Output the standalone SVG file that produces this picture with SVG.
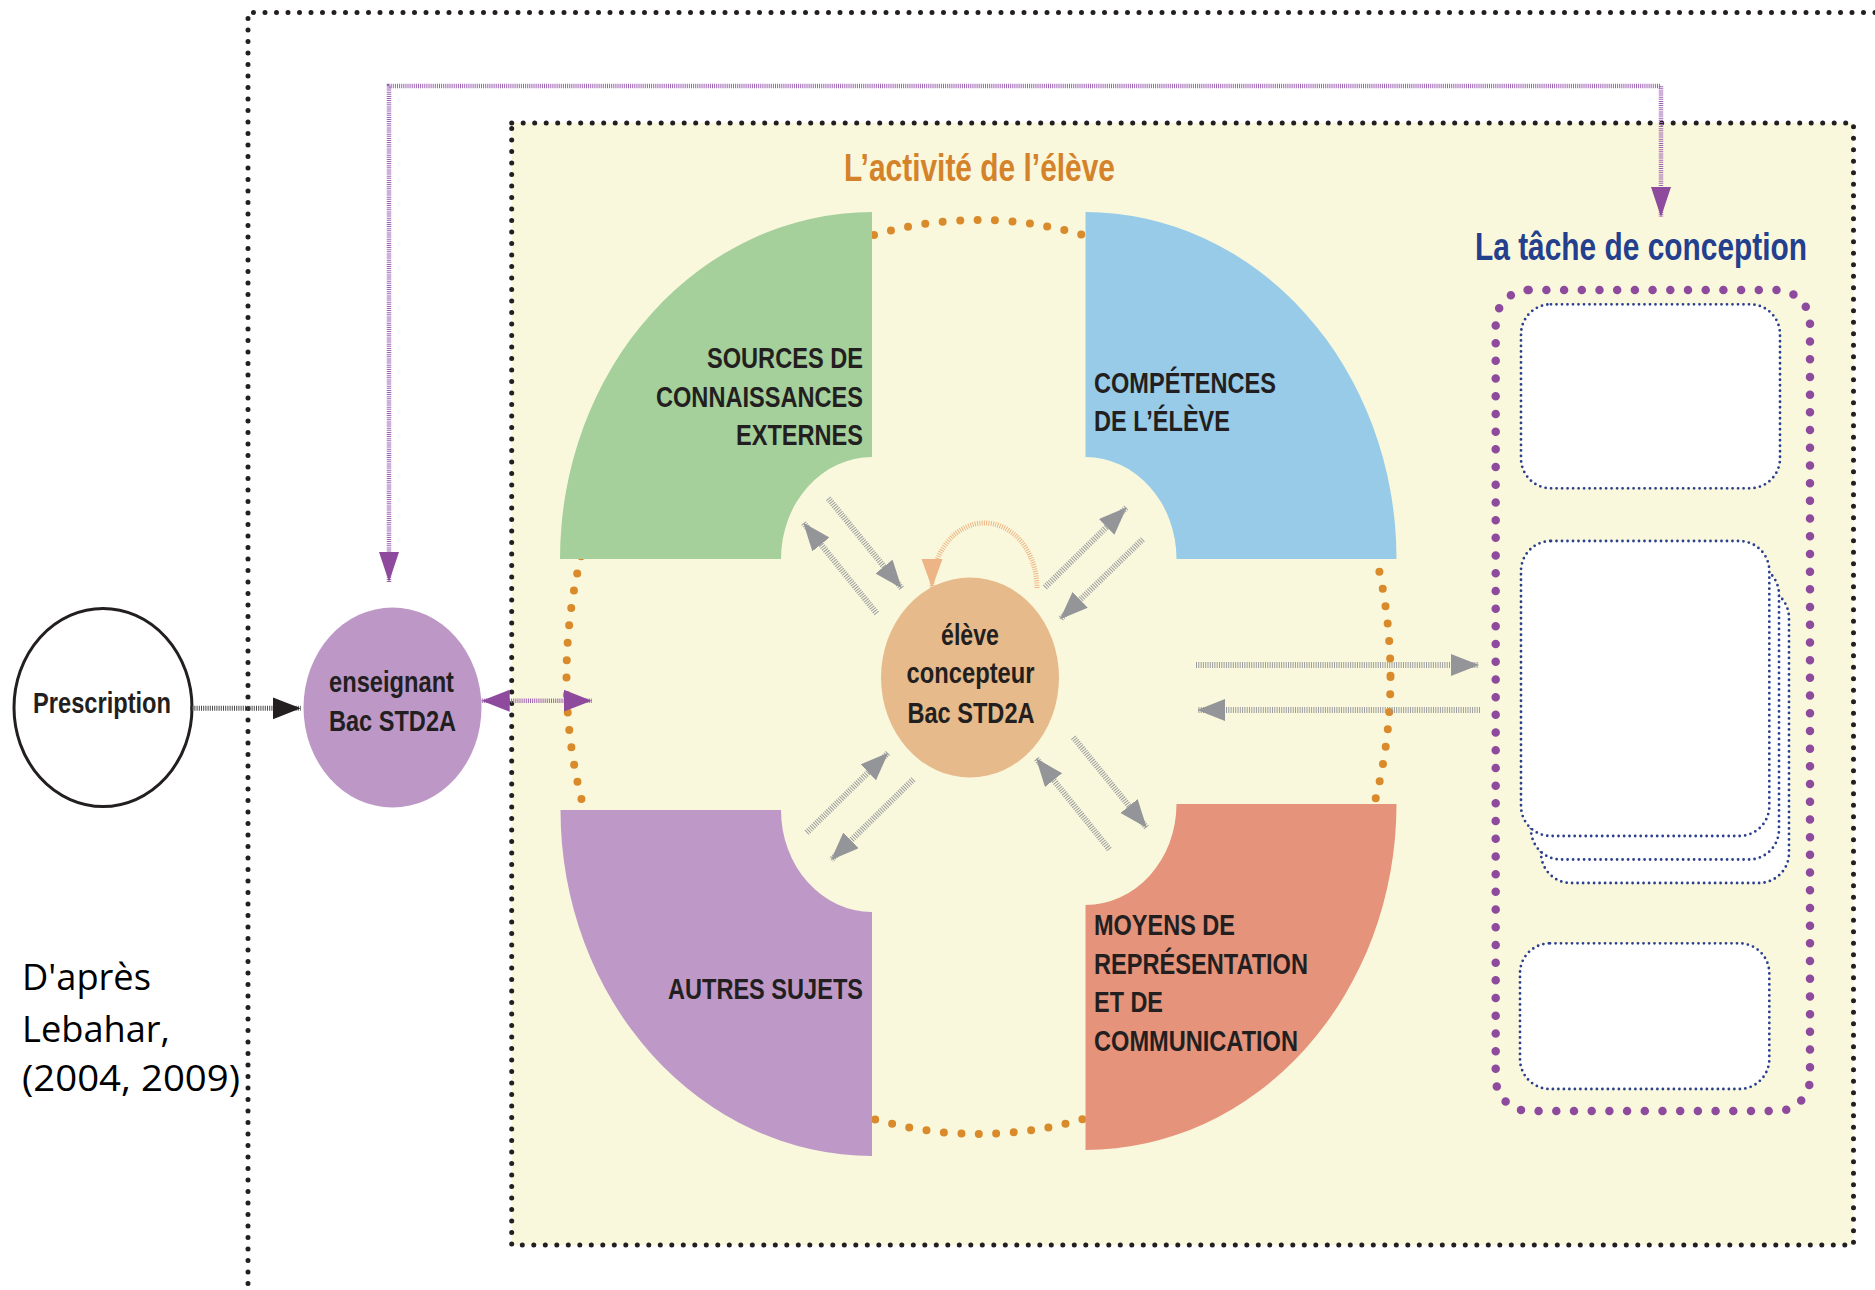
<svg xmlns="http://www.w3.org/2000/svg" width="1875" height="1290" viewBox="0 0 1875 1290">
<style>
.dotblk{fill:none;stroke:#231F20;stroke-width:5;stroke-linecap:round;stroke-dasharray:0 11.5}
.dotorg{fill:none;stroke:#D98A2B;stroke-width:8;stroke-linecap:round;stroke-dasharray:0 17.5}
.dotpur{fill:none;stroke:#8E4B9E;stroke-width:8.5;stroke-linecap:round;stroke-dasharray:0 17.7}
.dotblu{fill:#FFFFFF;stroke:#2B3F8F;stroke-width:2.8;stroke-linecap:round;stroke-dasharray:0 5.5}
.hg{fill:none;stroke:#9A9C9F;stroke-width:6;stroke-dasharray:1 1.3}
.hk{fill:none;stroke:#4A4A4A;stroke-width:5;stroke-dasharray:1 1.2}
.hp{fill:none;stroke:#9D63B3;stroke-width:4.5;stroke-dasharray:1 1.1}
.ho{fill:none;stroke:#EDB585;stroke-width:5;stroke-dasharray:1 1.3}
.lbl{font-family:"Liberation Sans",Arial,sans-serif;font-weight:bold;font-size:29px;fill:#231F20}
.note{font-family:"Open Sans","Noto Sans",sans-serif;font-size:36px;fill:#000000}
.title{font-family:"Liberation Sans",Arial,sans-serif;font-weight:bold;font-size:39px}
</style>
<defs>
<marker id="ag" markerUnits="userSpaceOnUse" markerWidth="30" markerHeight="24" refX="28" refY="11" orient="auto-start-reverse"><path d="M0,0 L28,11 L0,22 Z" fill="#939598"/></marker>
<marker id="ak" markerUnits="userSpaceOnUse" markerWidth="30" markerHeight="24" refX="28" refY="11" orient="auto"><path d="M0,0 L28,11 L0,22 Z" fill="#231F20"/></marker>
<marker id="ap" markerUnits="userSpaceOnUse" markerWidth="30" markerHeight="24" refX="28" refY="11" orient="auto-start-reverse"><path d="M0,0 L28,11 L0,22 Z" fill="#8E4B9E"/></marker>
<marker id="ap2" markerUnits="userSpaceOnUse" markerWidth="32" markerHeight="22" refX="30" refY="10" orient="auto-start-reverse"><path d="M0,0 L30,10 L0,20 Z" fill="#8E4B9E"/></marker>
<marker id="ao" markerUnits="userSpaceOnUse" markerWidth="31" markerHeight="22" refX="29" refY="10.5" orient="auto"><path d="M0,0 L29,10.5 L0,21 Z" fill="#EDB585"/></marker>
</defs>
<rect width="1875" height="1290" fill="#FFFFFF"/>

<g id="outer-frame">
<path class="dotblk" d="M1875,12.5 H248 V1290"/>
</g>

<g id="activity-frame">
<rect x="511.7" y="123" width="1341.8" height="1122" fill="#FAF8DC"/>
<rect class="dotblk" x="511.7" y="123" width="1341.8" height="1122"/>
<text class="title" x="844" y="181" fill="#D4832A" textLength="271" lengthAdjust="spacingAndGlyphs">L’activité de l’élève</text>
</g>

<g id="orange-ring">
<ellipse class="dotorg" cx="978.5" cy="677" rx="412" ry="457"/>
</g>

<g id="sources">
<path d="M872,212 V457 A91,102 0 0 0 781,559 H560 A312,347 0 0 1 872,212 Z" fill="#A5CF9B"/>
<text class="lbl" x="863" y="368" text-anchor="end" textLength="156" lengthAdjust="spacingAndGlyphs">SOURCES DE</text>
<text class="lbl" x="863" y="407" text-anchor="end" textLength="207" lengthAdjust="spacingAndGlyphs">CONNAISSANCES</text>
<text class="lbl" x="863" y="445" text-anchor="end" textLength="127" lengthAdjust="spacingAndGlyphs">EXTERNES</text>
</g>

<g id="competences">
<path d="M1085.5,212 A311,347 0 0 1 1396.5,559 H1176.5 A91,102 0 0 0 1085.5,457 Z" fill="#97CBE8"/>
<text class="lbl" x="1094" y="393" textLength="182" lengthAdjust="spacingAndGlyphs">COMPÉTENCES</text>
<text class="lbl" x="1094" y="431" textLength="136" lengthAdjust="spacingAndGlyphs">DE L’ÉLÈVE</text>
</g>

<g id="autres-sujets">
<path d="M560.5,810 H781 A91,102 0 0 0 872,912 V1156 A312,346 0 0 1 560.5,810 Z" fill="#BE99C8"/>
<text class="lbl" x="863" y="999" text-anchor="end" textLength="195" lengthAdjust="spacingAndGlyphs">AUTRES SUJETS</text>
</g>

<g id="moyens">
<path d="M1085.5,905 A91,101 0 0 0 1176.5,804 H1396.5 A311,346 0 0 1 1085.5,1150 Z" fill="#E5937B"/>
<text class="lbl" x="1094" y="935" textLength="141" lengthAdjust="spacingAndGlyphs">MOYENS DE</text>
<text class="lbl" x="1094" y="974" textLength="214" lengthAdjust="spacingAndGlyphs">REPRÉSENTATION</text>
<text class="lbl" x="1094" y="1012" textLength="69" lengthAdjust="spacingAndGlyphs">ET DE</text>
<text class="lbl" x="1094" y="1051" textLength="204" lengthAdjust="spacingAndGlyphs">COMMUNICATION</text>
</g>

<g id="eleve">
<ellipse cx="970" cy="677.5" rx="89" ry="100" fill="#E6BA8A"/>
<text class="lbl" x="970" y="645" text-anchor="middle" textLength="58" lengthAdjust="spacingAndGlyphs">élève</text>
<text class="lbl" x="970.5" y="683" text-anchor="middle" textLength="128" lengthAdjust="spacingAndGlyphs">concepteur</text>
<text class="lbl" x="971" y="723" text-anchor="middle" textLength="127" lengthAdjust="spacingAndGlyphs">Bac STD2A</text>
</g>

<g id="prescription">
<ellipse cx="103" cy="707.5" rx="89" ry="99" fill="#FFFFFF" stroke="#231F20" stroke-width="3"/>
<text class="lbl" x="102" y="713" text-anchor="middle" font-size="30" textLength="138" lengthAdjust="spacingAndGlyphs">Prescription</text>
</g>

<g id="enseignant">
<ellipse cx="392.5" cy="707.5" rx="89" ry="100" fill="#BD98C7"/>
<text class="lbl" x="391.5" y="692" text-anchor="middle" textLength="125" lengthAdjust="spacingAndGlyphs">enseignant</text>
<text class="lbl" x="392.5" y="731" text-anchor="middle" textLength="127" lengthAdjust="spacingAndGlyphs">Bac STD2A</text>
</g>

<g id="tache">
<text class="title" x="1475" y="260" fill="#243F8E" textLength="332" lengthAdjust="spacingAndGlyphs">La tâche de conception</text>
<rect class="dotpur" x="1495.7" y="290" width="314.3" height="821" rx="33" ry="33"/>
<rect class="dotblu" x="1521" y="304.3" width="259" height="184" rx="30" ry="30"/>
<rect class="dotblu" x="1541" y="588" width="248" height="295" rx="30" ry="30"/>
<rect class="dotblu" x="1531" y="564.5" width="248" height="295" rx="30" ry="30"/>
<rect class="dotblu" x="1521" y="541" width="248.3" height="295" rx="30" ry="30"/>
<rect class="dotblu" x="1520" y="943.3" width="249.3" height="145.7" rx="30" ry="30"/>
</g>

<g id="source-note">
<text class="note" x="22" y="990" textLength="129" lengthAdjust="spacingAndGlyphs">D'après</text>
<text class="note" x="22" y="1042" textLength="148" lengthAdjust="spacingAndGlyphs">Lebahar,</text>
<text class="note" x="22" y="1091" textLength="218" lengthAdjust="spacingAndGlyphs">(2004, 2009)</text>
</g>

<g id="connectors">
<path class="hp" d="M389,582 V86 H1661 V217" marker-start="url(#ap2)" marker-end="url(#ap2)"/>
<path class="hk" d="M190,708.3 H300.7" marker-end="url(#ak)"/>
<path class="hp" d="M481.7,700.7 H591.7" marker-start="url(#ap)" marker-end="url(#ap)"/>
<path class="hg" d="M828.3,498.3 L901.7,588.3" marker-end="url(#ag)"/>
<path class="hg" d="M876.7,613.3 L803.3,522.7" marker-end="url(#ag)"/>
<path class="hg" d="M1045,587.3 L1126.7,507.3" marker-end="url(#ag)"/>
<path class="hg" d="M1142.7,539.3 L1060,619.3" marker-end="url(#ag)"/>
<path class="hg" d="M806.7,832.7 L888.3,752.7" marker-end="url(#ag)"/>
<path class="hg" d="M913.3,779.3 L831,860" marker-end="url(#ag)"/>
<path class="hg" d="M1073.3,737.3 L1146.7,827.7" marker-end="url(#ag)"/>
<path class="hg" d="M1109.3,849.3 L1036,758.3" marker-end="url(#ag)"/>
<path class="hg" d="M1196,665 H1479" marker-end="url(#ag)"/>
<path class="hg" d="M1480,710 H1197.3" marker-end="url(#ag)"/>
<path class="ho" d="M1037,588 A52.5,65 0 0 0 932,588" marker-end="url(#ao)"/>
</g>
</svg>
